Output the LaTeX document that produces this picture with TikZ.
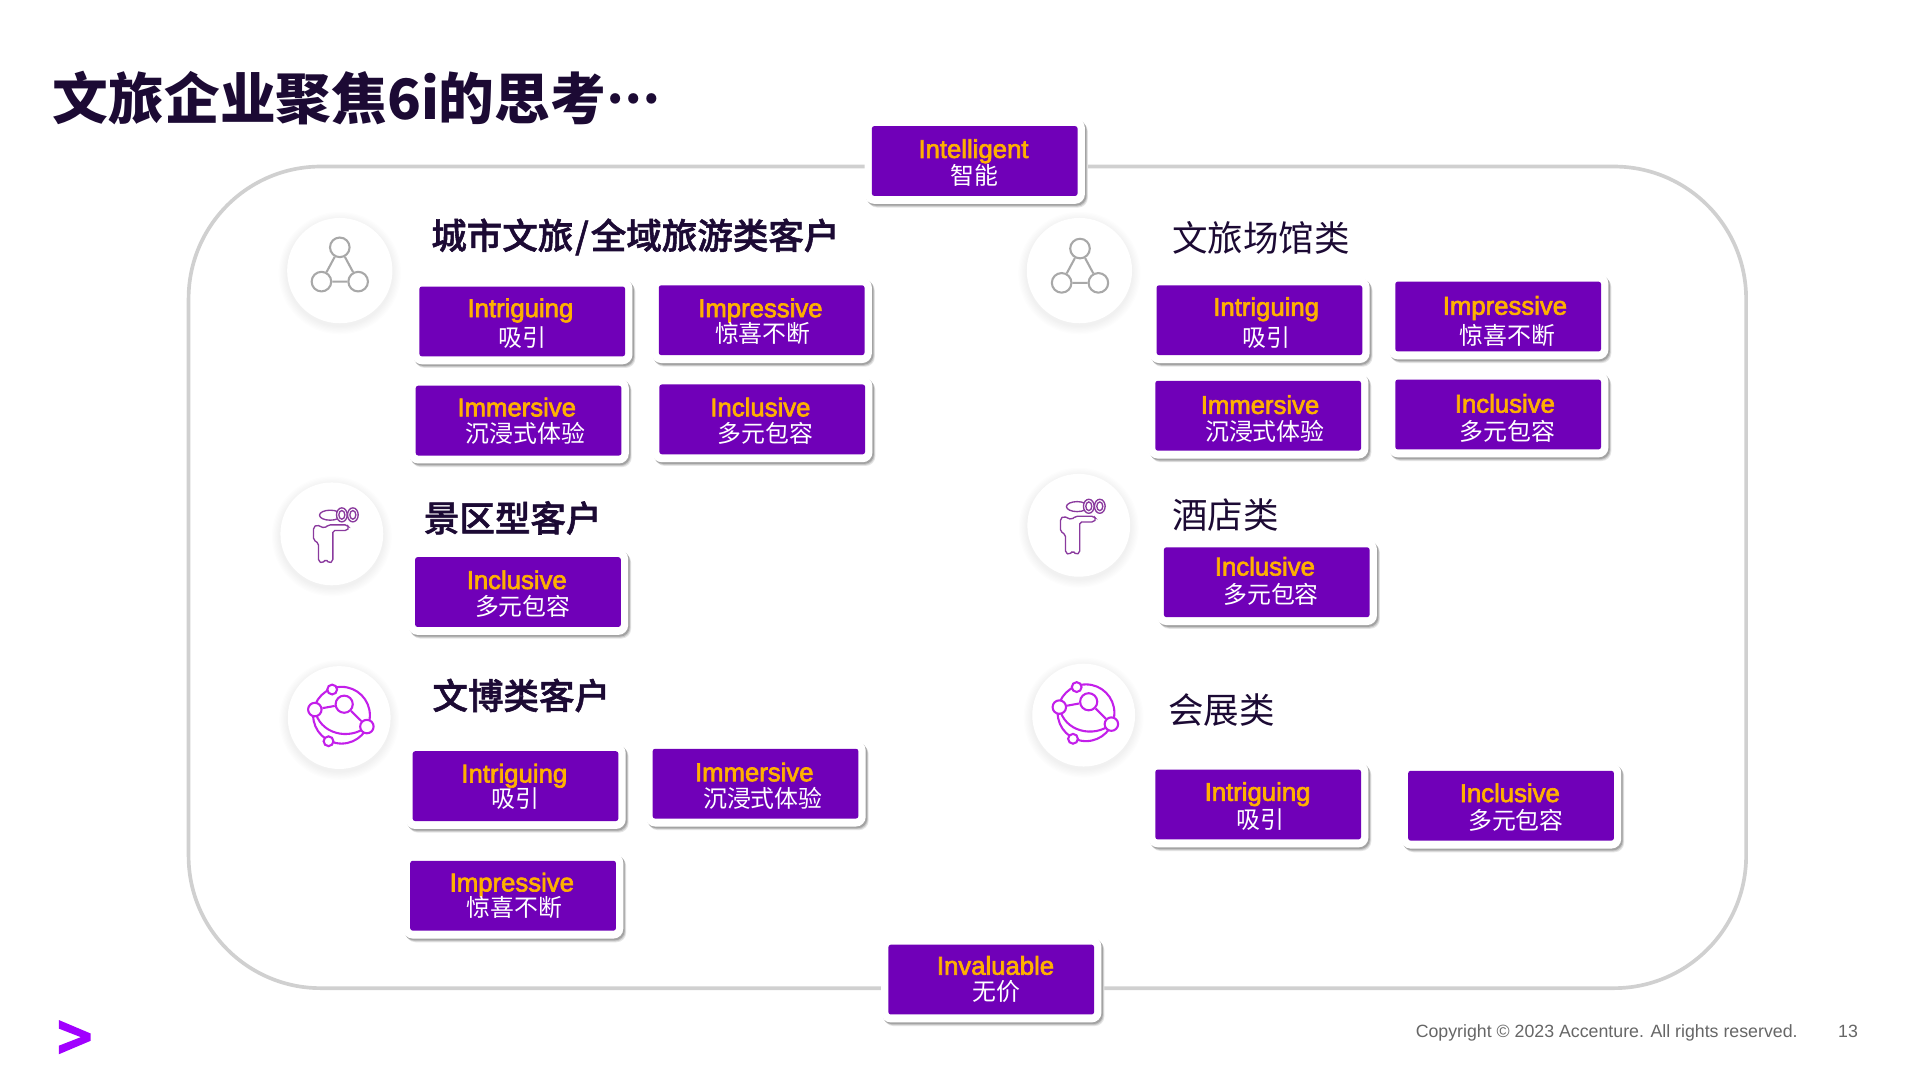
\documentclass[tikz,border=0pt]{standalone}
\usepackage{fontspec}
\setmainfont{Liberation Sans}
\newfontfamily\cjk{Noto Sans CJK SC}
\newfontfamily\cjkmed[FakeBold=1.5]{Noto Sans CJK SC Medium}
\newfontfamily\enfont[FakeBold=2.5]{Liberation Sans}
\usepackage{tikz}
\usetikzlibrary{shadows}

\definecolor{tagpurple}{HTML}{7000B8}
\definecolor{tagorange}{HTML}{FFB000}
\definecolor{inkdark}{HTML}{1C0A34}
\definecolor{framegray}{HTML}{D0D0D0}
\definecolor{netgray}{HTML}{A8A8A8}
\definecolor{scoutpurple}{HTML}{8A3A9E}
\definecolor{orbitpink}{HTML}{C31FEA}
\definecolor{logopurple}{HTML}{A100FF}

\tikzset{
	tagplate/.style={fill=white, rounded corners=8pt, minimum width=180pt, minimum height=70pt, inner sep=0pt,
		general shadow={fill=black!10, shadow xshift=2.4pt, shadow yshift=-3pt},
		general shadow={fill=black!22, shadow xshift=1.8pt, shadow yshift=-2.2pt},
		general shadow={fill=black!36, shadow xshift=1.2pt, shadow yshift=-1.4pt}},
	tagbox/.style={fill=tagpurple, rounded corners=2pt, minimum width=168pt, minimum height=57pt, inner sep=0pt},
	tagen/.style={text=tagorange, inner sep=0pt, text height=15pt, text depth=0pt, yshift=0.5pt, font=\enfont\fontsize{21}{21}\selectfont},
	tagzh/.style={text=white, inner sep=0pt, font=\cjk\fontsize{19.5}{20}\selectfont},
	headbold/.style={anchor=west, inner sep=0pt, text=inkdark, font=\cjkmed\fontsize{29}{30}\selectfont},
	headplain/.style={anchor=west, inner sep=0pt, text=inkdark, font=\cjk\fontsize{29}{30}\selectfont},
	netdot/.style={circle, draw=netgray, line width=1.7pt, fill=white, minimum size=16pt, inner sep=0pt},
	orbitdot/.style={circle, draw=orbitpink, line width=1.7pt, fill=white, inner sep=0pt},
}

% round white badge with a soft edge
\newcommand{\badge}[4]{
	\foreach \grow in {7,6,...,1}{
		\fill[black, opacity=0.009] (#2,#3+2) circle ({#4+\grow});
	}
	\node[circle, fill=white, minimum size=#4*2pt, inner sep=0pt] (#1) at (#2,#3) {};
}

\newcommand{\neticon}[2]{
	\begin{scope}[shift={(#1,#2)}]
		\node[netdot] (nettop) at (0,-18) {};
		\node[netdot] (netleft) at (-15,10) {};
		\node[netdot] (netright) at (15,10) {};
		\draw[netgray, line width=1.7pt] (nettop)--(netleft) (netleft)--(netright) (netright)--(nettop);
	\end{scope}
}

\newcommand{\scouticon}[2]{
	\begin{scope}[shift={(#1,#2)}, scale=0.2725, draw=scoutpurple, line width=1.1pt]
		\draw[fill=white, rounded corners=1.5pt] (-45,-27)--(-55,-20)--(-55,18)--(-40,28)--(-40,82)--(-28,88)--(-18,76)--(-8,88)--(3,82)--(3,-10)--(45,-10)--(52,-19)--(45,-27)--(-10,-27)--(-22,-17)--cycle;
		\draw[fill=white] (-5,-56) ellipse (32 and 15);
		\draw[fill=white] (30,-57) ellipse (16 and 21);
		\draw[fill=white] (30,-57) ellipse (9 and 13);
		\draw[fill=white] (63,-57) ellipse (16 and 21);
		\draw[fill=white] (63,-57) ellipse (9 and 13);
	\end{scope}
}

\newcommand{\orbiticon}[2]{
	\begin{scope}[shift={(#1,#2)}, scale=0.2725]
		\draw[orbitpink, line width=1.7pt] (7,-7) circle (85);
		\draw[orbitpink, line width=1.7pt] (-73,-24) .. controls (-60,50) and (30,70) .. (83,27);
		\node[orbitdot, minimum size=11pt] (orba) at (-73,-24) {};
		\node[orbitdot, minimum size=14pt] (orbb) at (15,-40) {};
		\node[orbitdot, minimum size=11pt] (orbc) at (83,27) {};
		\node[orbitdot, minimum size=8pt] (orbd) at (-21,-84) {};
		\node[orbitdot, minimum size=8pt] (orbe) at (-32,71) {};
		\draw[orbitpink, line width=1.7pt] (orba)--(orbb) (orbb)--(orbc);
	\end{scope}
}

\begin{document}
\begin{tikzpicture}[x=1pt, y=-1pt]
	\useasboundingbox (0,0) rectangle (1568,882);
	\fill[white] (0,0) rectangle (1568,882);
	
	\node[anchor=west, inner sep=0pt, text=inkdark, font=\cjk\bfseries\fontsize{45.5}{48}\selectfont] (title) at (43,80) {文旅企业聚焦6i的思考{\fontsize{39}{40}\selectfont\raisebox{0.34em}{…}}};
	
	\draw[framegray, line width=3pt, rounded corners=108pt] (154,136) rectangle (1426,807);
	
	% badges and icons
	\badge{badgecity}{277.5}{221}{43}
	\badge{badgevenue}{881.5}{221}{43}
	\badge{badgescenic}{271}{436}{42}
	\badge{badgehotel}{881}{429}{42}
	\badge{badgemuseum}{277}{586}{42}
	\badge{badgeexpo}{885}{584}{42}
	\neticon{277.5}{220}
	\neticon{882}{221}
	\scouticon{271}{436}
	\scouticon{881}{429}
	\orbiticon{277}{586}
	\orbiticon{885}{584}
	
	\node[headbold] (headcity) at (352,193.5) {城市文旅{\kern1.5pt/\kern1.5pt}全域旅游类客户};
	\node[headplain] (headvenue) at (957,194) {文旅场馆类};
	\node[headbold] (headscenic) at (346,423) {景区型客户};
	\node[headplain] (headhotel) at (957,421) {酒店类};
	\node[headbold] (headmuseum) at (353,568) {文博类客户};
	\node[headplain] (headexpo) at (954,580) {会展类};
	
	% name/box x/box y/en x/en y/en/zh x/zh y/zh
	\foreach \nm/\bx/\by/\ex/\ey/\en/\zx/\zy/\zh in {
		cityone/426.5/262.5/425/252/Intriguing/427/276/吸引,
		citytwo/622/261.5/621/252/Impressive/623/272/惊喜不断,
		citythree/423.5/343.5/422/333/Immersive/429/354/沉浸式体验,
		cityfour/622.5/342.5/621/333/Inclusive/625/354/多元包容,
		scenicone/423/483.5/422/474/Inclusive/427/495/多元包容,
		museumone/421/642/420/632/Intriguing/421/652/吸引,
		museumtwo/617/640/616/631/Immersive/623/652/沉浸式体验,
		museumthree/419/731.5/418/721/Impressive/420/741/惊喜不断,
		venueone/1028.5/261.5/1034/251/Intriguing/1034/276/吸引,
		venuetwo/1223.5/258.5/1229/250/Impressive/1231/274/惊喜不断,
		venuethree/1027.5/339.5/1029/331/Immersive/1033/352/沉浸式体验,
		venuefour/1223.5/338.5/1229/330/Inclusive/1231/352/多元包容,
		hotelone/1034.5/475.5/1033/463/Inclusive/1038/485/多元包容,
		expoone/1027.5/657/1027/647/Intriguing/1029/669/吸引,
		expotwo/1234/658/1233/648/Inclusive/1238/670/多元包容,
		intelligent/796/131.5/795/122/Intelligent/796/143/智能,
		invaluable/809.5/800/813/789/Invaluable/814/810/无价}{
		\node[tagplate] (plate\nm) at (\bx,\by) {};
		\node[tagbox] (box\nm) at (\bx,\by) {};
		\node[tagen] (en\nm) at (\ex,\ey) {\en};
		\node[tagzh] (zh\nm) at (\zx,\zy) {\zh};
	}
	
	\fill[logopurple] (48,833)--(74,844)--(74,850)--(48,861)--(48,854)--(66,847)--(48,840)--cycle;
	
	\node[anchor=west, inner sep=0pt, text=black!60, font=\fontsize{14.5}{15}\selectfont] (copyright) at (1156,843.5) {Copyright © 2023 Accenture. All rights reserved.};
	\node[anchor=west, inner sep=0pt, text=black!60, font=\fontsize{14.5}{15}\selectfont] (pagenum) at (1501,842) {13};
\end{tikzpicture}
\end{document}
